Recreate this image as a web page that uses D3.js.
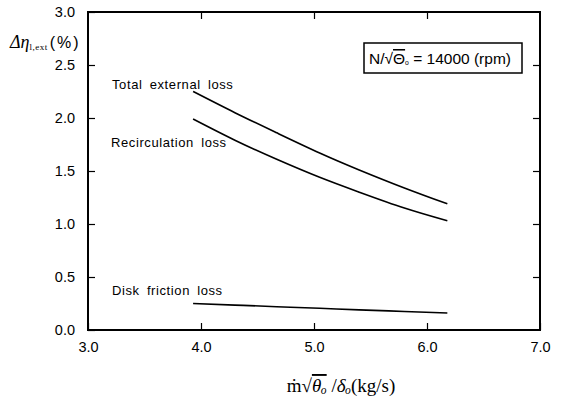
<!DOCTYPE html>
<html lang="en">
<head>
<meta charset="UTF-8">
<title>External loss vs corrected mass flow</title>
<script src="https://d3js.org/d3.v7.min.js"></script>
<style>
  body { margin: 0; background: #fff; }
  svg { display: block; }
</style>
</head>
<body>
<script>
// values
const massFlow = [3.93, 4.3, 4.67, 5.05, 5.4, 5.8, 6.18];
const totalLoss = [2.25, 2.05, 1.86, 1.67, 1.51, 1.34, 1.19];
const recircLoss = [1.99, 1.79, 1.61, 1.44, 1.30, 1.15, 1.03];
const diskLoss = [0.25, 0.235, 0.22, 0.205, 0.19, 0.175, 0.16];
const seriesNames = ["Total external loss", "Recirculation loss", "Disk friction loss"];
const xTicks = [3.0, 4.0, 5.0, 6.0, 7.0];
const yTicks = [0.0, 0.5, 1.0, 1.5, 2.0, 2.5, 3.0];

const width = 564, height = 404;
const plotL = 88, plotR = 540, plotT = 12, plotB = 330;

const x = d3.scaleLinear().domain([3, 7]).range([plotL, plotR]);
const y = d3.scaleLinear().domain([0, 3]).range([plotB, plotT]);

const svg = d3.select("body").append("svg")
  .attr("width", width)
  .attr("height", height);

// frame
svg.append("rect")
  .attr("x", plotL).attr("y", plotT)
  .attr("width", plotR - plotL).attr("height", plotB - plotT)
  .attr("fill", "none").attr("stroke", "#000").attr("stroke-width", 2);

const tickFont = "'Liberation Sans', Arial, sans-serif";

// inward ticks on all four sides
const bottomAxis = d3.axisBottom(x).tickValues(xTicks).tickSizeInner(-7).tickSizeOuter(0)
  .tickPadding(12).tickFormat(d3.format(".1f"));
const gB = svg.append("g").attr("transform", `translate(0,${plotB})`).call(bottomAxis);
const topAxis = d3.axisTop(x).tickValues([4, 5, 6]).tickSizeInner(-7).tickSizeOuter(0).tickFormat("");
const gT = svg.append("g").attr("transform", `translate(0,${plotT})`).call(topAxis);
const leftAxis = d3.axisLeft(y).tickValues(yTicks).tickSizeInner(-7).tickSizeOuter(0)
  .tickPadding(13).tickFormat(d3.format(".1f"));
const gL = svg.append("g").attr("transform", `translate(${plotL},0)`).call(leftAxis);
const rightAxis = d3.axisRight(y).tickValues(yTicks.slice(1, -1)).tickSizeInner(-7).tickSizeOuter(0).tickFormat("");
const gR = svg.append("g").attr("transform", `translate(${plotR},0)`).call(rightAxis);

[gB, gT, gL, gR].forEach(g => {
  g.select(".domain").remove();
  g.selectAll("line").attr("stroke", "#000").attr("stroke-width", 1.2);
  g.selectAll("text").attr("font-family", tickFont).attr("font-size", 14.5).attr("fill", "#000");
});

// curves
const line = d3.line()
  .x((d, i) => x(massFlow[i]))
  .y(d => y(d))
  .curve(d3.curveNatural);

[totalLoss, recircLoss, diskLoss].forEach(s => {
  svg.append("path")
    .datum(s)
    .attr("d", line)
    .attr("fill", "none")
    .attr("stroke", "#000")
    .attr("stroke-width", 1.6);
});

// curve labels
const labelPos = [[112, 89], [111, 147], [112, 295]];
seriesNames.forEach((name, i) => {
  svg.append("text")
    .attr("x", labelPos[i][0]).attr("y", labelPos[i][1])
    .attr("font-family", tickFont)
    .attr("font-size", 13)
    .attr("letter-spacing", 0.6)
    .attr("word-spacing", 3)
    .text(name);
});

// speed box
svg.append("rect")
  .attr("x", 364).attr("y", 43).attr("width", 158).attr("height", 30)
  .attr("fill", "#fff").attr("stroke", "#000").attr("stroke-width", 1.5);
const box = svg.append("text")
  .attr("x", 369).attr("y", 64)
  .attr("font-family", tickFont).attr("font-size", 15.5);
box.append("tspan").text("N/\u221A");
box.append("tspan").text("\u0398").attr("text-decoration", "overline");
box.append("tspan").text("\u2092").attr("font-size", 10);
box.append("tspan").text(" = 14000 (rpm)");

// y label
const yl = svg.append("text")
  .attr("x", 10).attr("y", 48)
  .attr("font-family", "'Liberation Serif', serif")
  .attr("font-size", 18);
yl.append("tspan").text("\u0394\u03B7").attr("font-style", "italic");
yl.append("tspan").text("l,ext").attr("font-size", 9).attr("dy", 2).attr("letter-spacing", 0.5);
yl.append("tspan").text("(").attr("font-family", tickFont).attr("font-size", 16).attr("dy", -2).attr("dx", 2);
yl.append("tspan").text("%").attr("font-family", tickFont).attr("font-size", 16).attr("dx", 2);
yl.append("tspan").text(")").attr("font-family", tickFont).attr("font-size", 16).attr("dx", 2);

// x label
const xl = svg.append("text")
  .attr("x", 341).attr("y", 392)
  .attr("text-anchor", "middle")
  .attr("font-family", "'Liberation Serif', serif")
  .attr("font-size", 19);
xl.append("tspan").text("\u1E41\u221A");
xl.append("tspan").text("\u03B8\u2092").attr("font-style", "italic").attr("text-decoration", "overline");
xl.append("tspan").text(" /");
xl.append("tspan").text("\u03B4\u2092").attr("font-style", "italic");
xl.append("tspan").text("(kg/s)");
</script>
</body>
</html>
